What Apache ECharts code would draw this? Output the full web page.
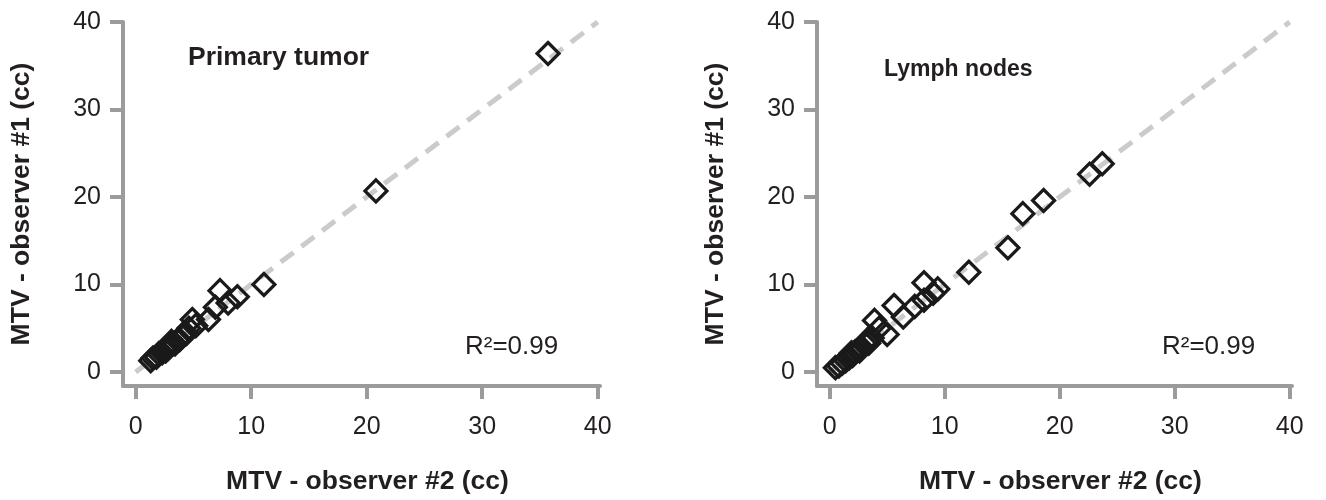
<!DOCTYPE html>
<html>
<head>
<meta charset="utf-8">
<script src="https://cdn.jsdelivr.net/npm/echarts@6/dist/echarts.min.js"></script>
<style>
  html, body { margin: 0; padding: 0; background: #fff; }
  #main { width: 1326px; height: 500px; }
</style>
</head>
<body>
<div id="main"></div>
<script>
// observer #2 / observer #1 (cc)
var primaryTumor = [
  [35.7, 36.4], [20.8, 20.7], [11.1, 10.0], [8.8, 8.6], [7.3, 9.3], [8.0, 7.9],
  [6.9, 7.4], [6.3, 6.0], [4.9, 6.0], [5.2, 5.3], [4.6, 5.0],
  [1.3, 1.3], [1.5, 1.6], [1.8, 1.7], [2.0, 2.1], [2.3, 2.2], [2.5, 2.6],
  [2.8, 2.7], [3.0, 3.0], [3.2, 3.3], [3.4, 3.2], [3.6, 3.6], [3.8, 3.7],
  [4.0, 4.1], [4.2, 4.3], [4.4, 4.4], [3.1, 3.5], [2.6, 2.4]
];
var lymphNodes = [
  [23.7, 23.8], [22.6, 22.6], [18.6, 19.6], [16.8, 18.1], [15.5, 14.2], [12.1, 11.4],
  [8.2, 10.2], [9.4, 9.5], [9.0, 9.0], [8.2, 8.2], [7.4, 7.5], [6.4, 6.3],
  [5.6, 7.6], [5.0, 4.3], [3.9, 5.9], [4.3, 5.0],
  [0.5, 0.5], [0.8, 0.7], [1.1, 1.0], [1.4, 1.3], [1.7, 1.6], [2.0, 1.9],
  [2.2, 2.3], [2.5, 2.6], [2.8, 2.8], [3.1, 3.2], [3.4, 3.3], [3.7, 3.9],
  [3.3, 3.7], [2.6, 2.4], [1.9, 2.2]
];
var identityLine = [[0, 0], [40, 40]];
var tickValues = [0, 10, 20, 30, 40];
var panelTitles = ['Primary tumor', 'Lymph nodes'];
var r2Text = 'R\u00b2=0.99';

var axisColor = '#9b9b9e';
var textColor = '#231f20';

function xAxisFor(gridIndex) {
  return {
    type: 'value',
    gridIndex: gridIndex,
    min: -1.1,
    max: 40.2,
    name: 'MTV - observer #2 (cc)',
    nameLocation: 'middle',
    nameGap: 82,
    nameTextStyle: { fontFamily: 'Liberation Sans', fontWeight: 'bold', fontSize: 26.5, color: textColor, padding: [0, 0, 0, 12] },
    axisLine: { onZero: false, lineStyle: { color: axisColor, width: 4 } },
    axisTick: { customValues: tickValues, length: 13, lineStyle: { color: axisColor, width: 4 } },
    axisLabel: { customValues: tickValues, margin: 29, fontFamily: 'Liberation Sans', fontSize: 25, color: textColor },
    splitLine: { show: false }
  };
}

function yAxisFor(gridIndex) {
  return {
    type: 'value',
    gridIndex: gridIndex,
    min: -1.6,
    max: 40,
    name: 'MTV - observer #1 (cc)',
    nameLocation: 'middle',
    nameGap: 88,
    nameTextStyle: { fontFamily: 'Liberation Sans', fontWeight: 'bold', fontSize: 26.5, color: textColor },
    axisLine: { onZero: false, lineStyle: { color: axisColor, width: 4 } },
    axisTick: { customValues: tickValues, length: 13, lineStyle: { color: axisColor, width: 4 } },
    axisLabel: { customValues: tickValues, margin: 22, fontFamily: 'Liberation Sans', fontSize: 25, color: textColor },
    splitLine: { show: false }
  };
}

function diagSeries(i) {
  return {
    type: 'line',
    xAxisIndex: i,
    yAxisIndex: i,
    data: identityLine,
    symbol: 'none',
    silent: true,
    lineStyle: { color: '#cbcbcb', width: 5, type: [16, 10], cap: 'butt' },
    z: 1
  };
}

function scatterSeries(i, data) {
  return {
    type: 'scatter',
    xAxisIndex: i,
    yAxisIndex: i,
    data: data,
    symbol: 'diamond',
    symbolSize: 22,
    itemStyle: { color: 'rgba(255,255,255,0)', borderColor: '#1a1a1a', borderWidth: 3.2, opacity: 1 },
    z: 3
  };
}

function label(text, x, y, weight, size) {
  return {
    type: 'text',
    x: x,
    y: y,
    style: {
      text: text,
      font: weight + ' ' + size + 'px "Liberation Sans"',
      fill: textColor,
      textAlign: 'left',
      textVerticalAlign: 'middle',
      align: 'left',
      verticalAlign: 'middle'
    }
  };
}

var chart = echarts.init(document.getElementById('main'), null, { renderer: 'canvas' });
chart.setOption({
  animation: false,
  backgroundColor: '#ffffff',
  grid: [
    { left: 123, top: 22, width: 477, height: 365 },
    { left: 817, top: 22, width: 475, height: 365 }
  ],
  xAxis: [xAxisFor(0), xAxisFor(1)],
  yAxis: [yAxisFor(0), yAxisFor(1)],
  series: [
    diagSeries(0), scatterSeries(0, primaryTumor),
    diagSeries(1), scatterSeries(1, lymphNodes)
  ],
  graphic: [
    label(panelTitles[0], 188, 58, 'bold', 26.5),
    label(panelTitles[1], 884, 70, 'bold', 23),
    label(r2Text, 465, 347, 'normal', 26),
    label(r2Text, 1162, 347, 'normal', 26)
  ]
});
</script>
</body>
</html>
